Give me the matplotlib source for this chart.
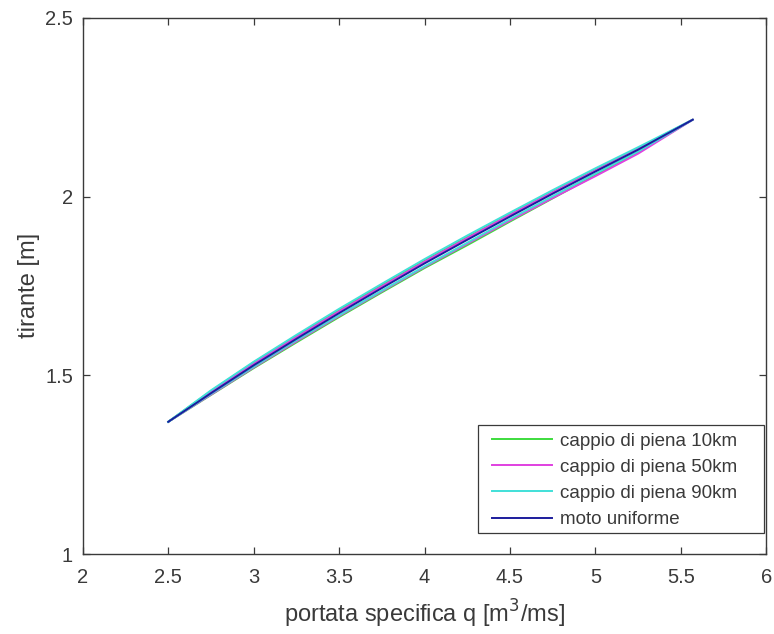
import matplotlib
matplotlib.use("Agg")
import matplotlib.pyplot as plt
from matplotlib.patches import Rectangle

plt.rcParams['font.family'] = ['Liberation Sans', 'DejaVu Sans']

# uniform flow
q_uni = [2.5, 2.75, 3.0, 3.25, 3.5, 3.75, 4.0, 4.25, 4.5, 4.75, 5.0, 5.25, 5.57]
h_uni = [1.370, 1.450, 1.528, 1.602, 1.674, 1.744, 1.813, 1.879, 1.944, 2.008, 2.070, 2.131, 2.215]

# hysteresis loops: rising limb then falling limb
q_loop = q_uni + q_uni[::-1][1:]
h_10 = [1.370, 1.456, 1.536, 1.610, 1.682, 1.752, 1.820, 1.886, 1.950, 2.013, 2.074, 2.134, 2.215,
        2.124, 2.060, 1.995, 1.930, 1.864, 1.800, 1.732, 1.663, 1.592, 1.520, 1.445, 1.370]
h_50 = [1.370, 1.454, 1.533, 1.607, 1.679, 1.749, 1.818, 1.884, 1.949, 2.012, 2.073, 2.133, 2.215,
        2.120, 2.057, 1.996, 1.933, 1.868, 1.803, 1.735, 1.666, 1.595, 1.522, 1.446, 1.370]
h_90 = [1.370, 1.458, 1.538, 1.613, 1.686, 1.756, 1.825, 1.891, 1.955, 2.018, 2.079, 2.138, 2.215,
        2.126, 2.064, 2.001, 1.937, 1.871, 1.805, 1.737, 1.668, 1.598, 1.524, 1.448, 1.370]

labels = ['cappio di piena 10km', 'cappio di piena 50km', 'cappio di piena 90km', 'moto uniforme']
colors = ['#3ddc3d', '#e040e0', '#40e0d8', '#1c1c9c']

xticks = [2, 2.5, 3, 3.5, 4, 4.5, 5, 5.5, 6]
xticklabels = ['2', '2.5', '3', '3.5', '4', '4.5', '5', '5.5', '6']
yticks = [1, 1.5, 2, 2.5]
yticklabels = ['1', '1.5', '2', '2.5']

fig = plt.figure(figsize=(7.74, 6.34), dpi=100)
ax = fig.add_axes([0.107, 0.126, 0.883, 0.846])

ax.plot(q_loop, h_10, color=colors[0], lw=1.4, label=labels[0])
ax.plot(q_loop, h_50, color=colors[1], lw=1.4, label=labels[1])
ax.plot(q_loop, h_90, color=colors[2], lw=1.4, label=labels[2])
ax.plot(q_uni, h_uni, color=colors[3], lw=1.4, label=labels[3])

ax.set_xlim(2, 6)
ax.set_ylim(1, 2.5)
ax.set_xticks(xticks)
ax.set_xticklabels(xticklabels)
ax.set_yticks(yticks)
ax.set_yticklabels(yticklabels)
tc = '#3a3a3a'
ax.tick_params(direction='in', top=True, right=True, length=5, width=0.9,
               colors=tc, labelsize=14.5, labelcolor=tc)
ax.tick_params(axis='x', pad=10)
ax.tick_params(axis='y', pad=7)
for s in ax.spines.values():
    s.set_color(tc)
    s.set_linewidth(1.0)

ax.set_xlabel('portata specifica q [m$^3$/ms]', fontsize=17, color=tc, labelpad=8)
ax.set_ylabel('tirante [m]', fontsize=17, color=tc, labelpad=4)

# legend frame (MATLAB style box)
frame = Rectangle((0.6176, 0.1593), 0.3695, 0.1704, transform=fig.transFigure,
                  facecolor='white', edgecolor=tc, linewidth=0.9, zorder=4, clip_on=False)
ax.add_patch(frame)

leg = ax.legend(loc='upper left', bbox_to_anchor=(0.6357, 0.3177),
                bbox_transform=fig.transFigure, fontsize=13.5, frameon=False,
                handlelength=3.2, borderaxespad=0, borderpad=0,
                labelspacing=0.48, handletextpad=0.45)
leg.set_zorder(5)
for t in leg.get_texts():
    t.set_color(tc)

fig.savefig('out.png', dpi=100)
